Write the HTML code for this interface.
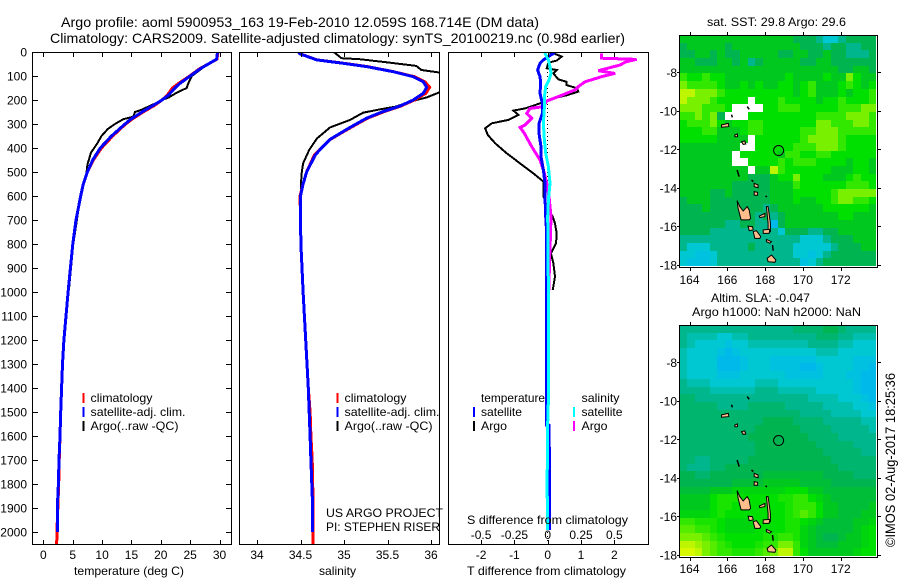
<!DOCTYPE html>
<html lang="en">
<head>
<meta charset="utf-8">
<title>Argo profile 5900953_163</title>
<style>
html,body{margin:0;padding:0;background:#fff;}
svg{display:block;}
text{font-family:"Liberation Sans",sans-serif;fill:#000;}
</style>
</head>
<body>
<svg id="chart" xmlns="http://www.w3.org/2000/svg" width="900" height="580" viewBox="0 0 900 580">
  <defs>
    <clipPath id="clipP1"><rect x="32" y="52" width="200" height="493"/></clipPath>
    <clipPath id="clipP2"><rect x="239" y="52" width="201" height="493"/></clipPath>
    <clipPath id="clipP3"><rect x="448" y="52" width="200" height="493"/></clipPath>
    <clipPath id="clipM1"><rect x="679.5" y="35" width="198" height="232"/></clipPath>
    <clipPath id="clipM2"><rect x="679.5" y="325" width="198" height="232"/></clipPath>
  </defs>

  <text x="61" y="27" font-size="14" textLength="478" lengthAdjust="spacingAndGlyphs">Argo profile: aoml 5900953_163 19-Feb-2010 12.059S 168.714E (DM data)</text>
  <text x="50" y="43" font-size="14" textLength="575" lengthAdjust="spacingAndGlyphs">Climatology: CARS2009. Satellite-adjusted climatology: synTS_20100219.nc (0.98d earlier)</text>

  <g id="layerMarks"></g>
  <g id="layerAxes"></g>

  <text x="74" y="575" font-size="12" textLength="110" lengthAdjust="spacingAndGlyphs">temperature (deg C)</text>
  <text x="319" y="575" font-size="12" textLength="37" lengthAdjust="spacingAndGlyphs">salinity</text>
  <text x="467" y="575" font-size="12" textLength="159" lengthAdjust="spacingAndGlyphs">T difference from climatology</text>
  <text x="467" y="524" font-size="12" textLength="161" lengthAdjust="spacingAndGlyphs">S difference from climatology</text>

  <g>
    <rect x="82.5" y="393" width="2" height="10" fill="#f00"/>
    <rect x="82.5" y="407" width="2" height="10" fill="#00f"/>
    <rect x="82.5" y="421" width="2" height="10" fill="#000"/>
    <text x="90.5" y="402" font-size="12" textLength="62" lengthAdjust="spacingAndGlyphs">climatology</text>
    <text x="90.5" y="416" font-size="12" textLength="95" lengthAdjust="spacingAndGlyphs">satellite-adj. clim.</text>
    <text x="90.5" y="430" font-size="12" textLength="88" lengthAdjust="spacingAndGlyphs">Argo(..raw -QC)</text>
  </g>
  <g>
    <rect x="336.5" y="393" width="2" height="10" fill="#f00"/>
    <rect x="336.5" y="407" width="2" height="10" fill="#00f"/>
    <rect x="336.5" y="421" width="2" height="10" fill="#000"/>
    <text x="344.5" y="402" font-size="12" textLength="62" lengthAdjust="spacingAndGlyphs">climatology</text>
    <text x="344.5" y="416" font-size="12" textLength="95" lengthAdjust="spacingAndGlyphs">satellite-adj. clim.</text>
    <text x="344.5" y="430" font-size="12" textLength="88" lengthAdjust="spacingAndGlyphs">Argo(..raw -QC)</text>
  </g>
  <text x="326" y="517" font-size="12" textLength="117" lengthAdjust="spacingAndGlyphs">US ARGO PROJECT</text>
  <text x="326" y="531" font-size="12" textLength="114" lengthAdjust="spacingAndGlyphs">PI: STEPHEN RISER</text>

  <g>
    <text x="481" y="402" font-size="12" textLength="64" lengthAdjust="spacingAndGlyphs">temperature</text>
    <rect x="473" y="407" width="2" height="10" fill="#00f"/>
    <rect x="473" y="421" width="2" height="10" fill="#000"/>
    <text x="481" y="416" font-size="12" textLength="41" lengthAdjust="spacingAndGlyphs">satellite</text>
    <text x="481" y="430" font-size="12" textLength="26" lengthAdjust="spacingAndGlyphs">Argo</text>
    <text x="581.5" y="402" font-size="12" textLength="38" lengthAdjust="spacingAndGlyphs">salinity</text>
    <rect x="573" y="407" width="2" height="10" fill="#0ff"/>
    <rect x="573" y="421" width="2" height="10" fill="#f0f"/>
    <text x="581.5" y="416" font-size="12" textLength="41" lengthAdjust="spacingAndGlyphs">satellite</text>
    <text x="581.5" y="430" font-size="12" textLength="26" lengthAdjust="spacingAndGlyphs">Argo</text>
  </g>

  <text x="707" y="26" font-size="12" textLength="139" lengthAdjust="spacingAndGlyphs">sat. SST: 29.8 Argo: 29.6</text>
  <text x="711" y="302" font-size="12" textLength="99" lengthAdjust="spacingAndGlyphs">Altim. SLA: -0.047</text>
  <text x="692" y="316" font-size="12" textLength="169" lengthAdjust="spacingAndGlyphs">Argo h1000: NaN h2000: NaN</text>
  <text transform="translate(895 547) rotate(-90)" font-size="14" textLength="174" lengthAdjust="spacingAndGlyphs">©IMOS 02-Aug-2017 18:25:36</text>
</svg>

<script>
// ---------- profile data ----------
const depthTicks = [0,100,200,300,400,500,600,700,800,900,1000,1100,1200,1300,1400,1500,1600,1700,1800,1900,2000];
const tempTicks = [0,5,10,15,20,25,30];
const salTicks = [34,34.5,35,35.5,36];
const salTickLabels = ['34','34.5','35','35.5','36'];
const tDiffTicks = [-2,-1,0,1,2];
const sDiffTicks = [-0.5,-0.25,0,0.25,0.5];
const sDiffTickLabels = ['-0.5','-0.25','0','0.25','0.5'];

const climDepth = [0,30,50,70,100,130,150,180,200,220,250,280,300,350,400,450,500,550,600,700,800,900,1000,1100,1200,1300,1400,1500,1600,1700,1800,1900,2000,2050];
const satDepth = [0,30,50,70,100,130,150,180,200,220,250,280,300,350,400,450,500,550,600,700,800,900,1000,1100,1200,1300,1400,1500,1600,1700,1800,1900,2000];
const tempClim = [29.75,29.55,28.1,26.6,24.9,23.1,22.0,21.1,20.2,19.1,17.0,15.1,14.0,11.8,9.9,8.5,7.5,6.8,6.35,5.55,5,4.6,4.2,3.85,3.5,3.25,3.1,2.95,2.83,2.7,2.6,2.45,2.3,2.26];
const tempSat = [29.66,29.5,28.1,26.7,25,23.3,22.4,21.3,20.2,18.9,16.8,14.9,13.9,11.6,9.7,8.4,7.5,6.8,6.35,5.55,5,4.6,4.2,3.85,3.5,3.25,3.1,2.95,2.83,2.66,2.55,2.37,2.37];
const tempArgoDepth = [0,30,50,100,130,150,170,190,200,215,240,250,270,280,300,320,350,380,420,470,510,560,600,700,800,900,992];
const tempArgo = [29.7,29.6,28,25.3,24.7,24.4,22.7,21.3,20.2,19,16.8,15.6,15.3,13.6,12.2,11,9.9,9.2,8.1,7.5,7.3,6.7,6.3,5.7,5.1,4.7,4.35];

const salDepth = [0,8,33,47,61,82,103,124,147,172,200,225,248,276,314,339,364,400,429,500,550,600,700,800,1000,1200,1300,1400,1500,1600,1700,1800,1900,2000];
const salSat = [34.475,34.494,34.686,34.992,35.26,35.567,35.797,35.912,35.95,35.912,35.797,35.644,35.452,35.26,35.07,34.954,34.84,34.74,34.67,34.57,34.53,34.5,34.5,34.505,34.53,34.56,34.575,34.59,34.6,34.61,34.62,34.63,34.64,34.64];
const salClimDepth = [0,8,33,47,61,82,103,124,147,172,200,225,248,276,314,339,364,400,429,500,550,600,700,800,1000,1200,1300,1400,1500,1600,1700,1800,1900,2000,2050];
const salClim = [34.475,34.5,34.69,35.0,35.27,35.57,35.81,35.93,35.985,35.94,35.81,35.655,35.465,35.27,35.08,34.96,34.845,34.74,34.66,34.57,34.53,34.495,34.5,34.505,34.53,34.56,34.575,34.59,34.61,34.62,34.635,34.64,34.645,34.645,34.645];
const salArgoDepth = [0,5,26,30,44,58,75,85,100,150,169,189,207,228,239,253,283,314,360,408,464,512,575,631,700,800,900,992];
const salArgo = [34.88,34.9,34.97,35.18,35.52,35.83,35.89,36.085,36.3,36.3,36.09,35.95,35.76,35.59,35.41,35.22,35.07,34.84,34.69,34.6,34.53,34.51,34.505,34.505,34.5,34.505,34.515,34.53];

const tSatDepth = [0,6,19,33,47,75,103,131,172,214,256,297,339,394,436,492,547,603,686,756,1554,1555,1650,1651,1992];
const tSatDiff = [0.17,0.17,0.02,-0.13,-0.23,-0.30,-0.23,-0.21,-0.23,-0.16,-0.16,-0.26,-0.26,-0.20,-0.20,-0.13,-0.08,-0.08,-0.06,-0.03,-0.03,0.04,0.04,0.06,0.06];
const tArgoDepth = [0,8,19,36,44,54,68,75,89,114,124,138,151,165,179,197,207,235,244,262,283,297,318,346,380,422,464,506,540,603,617,644,686,714,756,798,839,881,936,992];
const tArgoDiff = [0.02,0.22,0.42,0.27,0.02,0,-0.03,0.27,0.17,0.32,0.57,0.57,0.87,0.92,0.6,0.07,-0.08,-0.68,-1.03,-0.88,-1.18,-1.68,-1.88,-1.80,-1.58,-1.23,-0.83,-0.43,-0.13,-0.13,-0.08,-0.03,0.15,0.22,0.27,0.25,0.1,0.17,0.22,0.15];
const sSatDepth = [0,6,33,61,89,117,144,186,228,297,367,422,478,547,617,686,1000,1450,1546,1854,1855,1992];
const sSatDiff = [-0.02,-0.02,0.005,0.0175,0.025,0.01,-0.015,-0.025,-0.025,-0.0325,-0.025,-0.015,0.005,0.0175,0.005,0,0.005,0.005,0,-0.005,0,0];
const sArgoDepth = [6,26,31,40,54,78,89,103,124,144,158,186,204,228,235,256,276,304,314,339,394,450,506,547,603,686,770,881,992];
const sArgoDiff = [0.405,0.405,0.6675,0.5925,0.5425,0.38,0.505,0.405,0.28,0.23,0.205,0.08,-0.0075,-0.0325,-0.1325,-0.1575,-0.12,-0.17,-0.2075,-0.175,-0.12,-0.0575,-0.025,-0.0075,0.01,0.025,0.02,0.0125,0.01];

// ---------- map data ----------
const mapLonTicks = [164,166,168,170,172];
const mapLatTicks = [-8,-10,-12,-14,-16,-18];
const floatLon = 168.714;
const floatLat = -12.059;
const N = null;
const sstGrid = [
[5,5,5,5,5,5,5,5,5,5,5,5,5,5,5,4,4,4,3,2,2,3,4,4,4,4],
[4,5,5,5,5,5,4,5,5,5,5,5,5,5,5,5,4,4,4,3,4,4,3,3,4,4],
[4,4,5,5,4,5,4,4,5,5,5,5,5,4,4,5,5,4,4,5,4,4,3,3,3,4],
[5,5,4,4,4,5,5,4,5,3,4,5,5,5,5,5,4,4,5,5,4,4,4,4,4,4],
[5,5,5,5,5,5,5,5,5,5,5,5,5,5,5,5,5,5,5,5,5,4,4,5,5,4],
[7,6,6,7,6,6,5,5,5,5,5,5,5,5,6,5,5,5,5,6,5,5,8,6,5,5],
[8,7,7,7,7,6,5,5,6,5,6,5,5,6,6,5,6,7,5,5,5,6,7,6,5,6],
[9,9,8,8,8,7,6,6,6,6,6,6,6,6,6,5,6,7,5,5,5,6,5,6,6,7],
[9,8,8,8,7,6,6,6,6,N,6,6,6,7,6,6,6,6,5,6,6,7,6,6,6,7],
[8,8,8,7,7,7,6,N,N,N,N,6,6,7,7,7,6,6,6,6,6,7,7,7,8,8],
[7,7,8,7,8,4,N,N,N,6,6,6,6,6,6,6,6,6,7,7,7,7,8,8,8,7],
[6,7,7,7,8,6,5,6,6,7,7,6,6,6,6,6,6,6,8,8,7,7,7,8,8,7],
[6,6,6,7,7,5,5,5,6,7,7,6,6,6,6,6,7,7,8,8,8,7,7,7,7,7],
[6,6,6,6,6,5,5,5,5,N,6,6,6,6,6,6,7,8,8,8,8,7,6,6,6,6],
[5,5,5,5,5,5,5,5,N,N,6,6,6,6,6,7,7,7,8,8,8,7,6,6,6,6],
[5,5,5,5,5,5,5,N,6,6,6,6,6,5,7,7,6,6,7,7,6,6,6,6,6,6],
[5,5,5,5,5,5,5,N,N,6,6,6,6,7,6,7,7,7,6,6,6,6,5,6,6,5],
[5,5,5,5,5,5,5,5,5,N,5,5,9,7,6,6,6,6,6,6,5,5,5,6,6,5],
[5,5,5,5,5,5,5,5,5,4,4,4,5,6,6,8,6,6,6,5,5,5,6,7,6,6],
[5,5,5,5,5,5,5,4,4,4,4,4,5,5,5,7,6,6,6,6,6,6,7,7,7,6],
[5,5,5,5,4,4,5,4,4,4,4,4,5,5,5,6,6,6,6,6,7,8,8,8,8,8],
[4,5,5,5,4,4,4,4,4,4,4,4,5,5,5,6,5,5,6,6,7,8,8,7,7,6],
[4,4,4,5,4,4,4,4,4,4,4,3,4,5,5,5,5,5,5,6,6,6,6,6,6,5],
[4,4,4,4,4,4,4,4,4,4,3,4,3,4,5,5,5,5,5,5,5,6,6,5,5,5],
[4,4,4,4,4,4,3,3,4,4,3,3,1,4,5,5,5,5,5,5,5,5,5,5,5,5],
[4,4,4,4,3,3,3,3,3,3,3,3,3,2,4,4,4,3,3,4,4,5,5,5,5,5],
[3,3,3,3,3,3,3,3,3,3,3,3,3,3,3,3,2,2,2,3,4,4,4,5,5,5],
[3,2,2,2,3,3,3,3,3,4,3,3,3,3,3,2,2,2,2,2,3,4,4,4,5,5],
[2,2,1.5,1.5,2,3,3,3,3,3,3,3,3,3,3,2,2,1.5,2,3,4,4,4,4,4,4],
[2,1.5,1.5,1.5,2,3,3,3,3,3,3,3,3,3,3,3,1.5,2,3,4,4,4,4,4,4,4]
];
const slaGrid = [
[3,3,3,3,3,3,3,3,3,3,3,3,3,3,3,3.5,3.5,3.5,3.5,4,4,3.5,3,3,3,3],
[3,2.5,2.5,2.5,2.5,2,2,2.5,2.5,3,3,3,3,3,3,3,3,3,3.5,3.5,3.5,3,3,2.5,2.5,2.5],
[3,2.5,2,2,2,2,1.5,2,2,2.5,2.5,2.5,2.5,2.5,2.5,2.5,2.5,3,3,3,3,2.5,2.5,2,2,2],
[2.5,2,2,2,2,1.5,1,1.5,2,2,2,2,2,2,2,2,2,2,2.5,2.5,2.5,2,2,2,2,2],
[2.5,2,2,2,2,1,1,1,1.5,2,2,2,1.5,1.5,1.5,1.5,1.5,1.5,2,2,2,2,2,1.5,1.5,1.5],
[2.5,2,2,2,2,1,1,1,1.5,2,2,2,1.5,1.5,1.5,1.5,1,1,1.5,2,2,2,2,1.5,1.5,1],
[2.5,2,2,2,2,1.5,1.5,1.5,2,2,2,2,2,2,1.5,1.5,1.5,1.5,1.5,2,2,2,1.5,1.5,1,1],
[3,2.5,2.5,2.5,2,2,2,2,2,2,2.5,2.5,2.5,2,2,2,2,2,2,2,2,2,2,1.5,1,1],
[3,3,3,3,2.5,2.5,2.5,2.5,2.5,2.5,3,3,3,2.5,2.5,2.5,2.5,2.5,2,2,2,2,2,1.5,1,1],
[3.5,3.5,3,3,3,3,3,3,3,3,3,3,3,3,3,3,3,2.5,2.5,2.5,2.5,2,2,2,1.5,1],
[3.5,3.5,3.5,3.5,3.5,3,3,3,3,3.5,3.5,3.5,3.5,3.5,3,3,3,3,3,2.5,2.5,2.5,2.5,2,2,1.5],
[3.5,3.5,3.5,3.5,3.5,3.5,3.5,3.5,3.5,3.5,3.5,3.5,3.5,3.5,3.5,3.5,3,3,3,3,2.5,2.5,2.5,2.5,2,2],
[3.5,3.5,3.5,3.5,3.5,3.5,3.5,3.5,3.5,3.5,3.5,4,4,4,4,3.5,3.5,3.5,3.5,3,3,3,3,3,2.5,2.5],
[3.5,3.5,3.5,3.5,3.5,3.5,3.5,3.5,3.5,3.5,4,4,4,4,4,4,3.5,3.5,3.5,3.5,3,3,3,3,3,2.5],
[3.5,3.5,3.5,3.5,3.5,3.5,3.5,3.5,3.5,4,4,4,4,4,4,4,4,3.5,3.5,3.5,3.5,3,3,3,3,3],
[3.5,3.5,3.5,3.5,3.5,3.5,3.5,3.5,3.5,3.5,4,4,4,4,4,4,4,4,3.5,3.5,3.5,3.5,3.5,3,3,3],
[3.5,3.5,3.5,3.5,3.5,3.5,3.5,3.5,3.5,3.5,4,4,4,4,4,4,4,4,4,3.5,3.5,3.5,3.5,3.5,3,3],
[3.5,3.5,3,3,3.5,3.5,3.5,3.5,3.5,4,4,4,4,4,4,4,4,4,4,4,3.5,3.5,3.5,3.5,3.5,3.5],
[3.5,3,3,3,3.5,3.5,4,4,4,4,4,4,4,4,4,4,4,4,4,4,4,3.5,3.5,3.5,3.5,3.5],
[4,4,3.5,3.5,4,4,4,4,4,4,4,4.5,4.5,4.5,4.5,4.5,4.5,4.5,4.5,4,4,4,4,3.5,3.5,3.5],
[4,4,4,4,4,4,4,4.5,4.5,4.5,4.5,5,5,5,5,5,4.5,4.5,4.5,4.5,4,4,4,4,4,4],
[4.5,4.5,4.5,4.5,5,5,5,5.5,5.5,5.5,5.5,5.5,5.5,5.5,6,6,6,5,5,4.5,4.5,4.5,4.5,4.5,4.5,4.5],
[5,5,5,5,6,6.5,6.5,6.5,6,6,6,6,6,6.5,6.5,7,7,6,5.5,5,4.5,4.5,4.5,4.5,4.5,4.5],
[5,5,5,5,6,6.5,6.5,6,6,6,6,6,6,6,6.5,7,7,7,6,5,5,4.5,4.5,4.5,4.5,5],
[5.5,5.5,5.5,5.5,6,6.5,6,6,6,6,6,6,6,6,6.5,7,7.5,7,6,5,5,4.5,4.5,4.5,5,5],
[7,7,6.5,6.5,6.5,6,5.5,5.5,5.5,5.5,6,6,6,6,6.5,6.5,6,5.5,5,4.5,4.5,4.5,4.5,5,5,5.5],
[7.5,7.5,7,7,6.5,6,5.5,5.5,5.5,5.5,6,6,6,6,6.5,6.5,5.5,5,4.5,4.5,4.5,4.5,4.5,5,5.5,6],
[8,8,8,7.5,7,6.5,6,6,6,6,6,6.5,6.5,7,7,6.5,5.5,5,4.5,4,4,4.5,5,5,5.5,6],
[9,9,8.5,8,7.5,7,6.5,6,6,6,6.5,7,7,8,8,7,5.5,5,4.5,4.5,4.5,5,5,5,5.5,6],
[9.5,9.5,9,8,7.5,7,7,6.5,6.5,6.5,7,7.5,8,9,9,7,6,5,5,5,5,5,5,5.5,6,6]
];
const islands = [
[[166.52,-14.66],[166.66,-14.97],[166.84,-15.20],[167.05,-14.97],[167.16,-15.15],[167.23,-15.58],[167.16,-15.66],[166.73,-15.66],[166.66,-15.40],[166.57,-15.06]],
[[165.69,-10.73],[166.05,-10.65],[166.08,-10.82],[165.69,-10.85]],
[[166.40,-11.25],[166.54,-11.20],[166.54,-11.34],[166.40,-11.34]],
[[166.75,-11.60],[166.92,-11.56],[166.98,-11.72],[166.84,-11.74]],
[[167.42,-13.76],[167.63,-13.85],[167.63,-13.99],[167.42,-13.93]],
[[167.42,-14.19],[167.60,-14.23],[167.60,-14.38],[167.42,-14.38]],
[[167.10,-15.98],[167.33,-16.01],[167.37,-16.18],[167.16,-16.22]],
[[167.37,-16.27],[167.54,-16.22],[167.77,-16.53],[167.72,-16.62],[167.46,-16.62]],
[[167.69,-15.46],[167.99,-15.32],[167.99,-15.49],[167.72,-15.54]],
[[168.07,-14.97],[168.16,-14.97],[168.28,-15.84],[168.28,-16.27],[168.16,-16.32],[168.16,-15.84]],
[[167.90,-16.18],[168.25,-16.15],[168.21,-16.36],[167.90,-16.36]],
[[168.07,-16.67],[168.34,-16.79],[168.25,-16.87],[168.07,-16.79]],
[[168.11,-17.65],[168.34,-17.48],[168.57,-17.74],[168.52,-17.86],[168.16,-17.83]]
];
const reefs = [
[[166.52,-13.07],[166.63,-13.42]],
[[167.05,-9.78],[167.16,-9.92]],
[[166.22,-10.20],[166.27,-10.34]],
[[168.39,-16.96],[168.43,-17.26]],
[[167.28,-13.59],[167.37,-13.67]],
[[168.02,-14.42],[168.10,-14.46]]
];

// ---------- scales ----------
const SVGNS = 'http://www.w3.org/2000/svg';
const marks = document.getElementById('layerMarks');
const axes = document.getElementById('layerAxes');
const depthY = d => 52 + 0.24 * d;
const tempX = t => 43.4 + 5.87 * t;
const salX = s => 257 + 87 * (s - 34);
const tDiffX = t => 547.7 + 33.3 * t;
const sDiffX = s => 547.7 + 133.2 * s;
const lonX = lon => 679.5 + 18.9 * (lon - 163.47);
const latYTop = lat => 72.3 + 19.27 * (-8 - lat);
const latYBottom = lat => 362.3 + 19.27 * (-8 - lat);

function mk(tag, attrs, parent) {
  const el = document.createElementNS(SVGNS, tag);
  for (const k in attrs) el.setAttribute(k, attrs[k]);
  parent.appendChild(el);
  return el;
}

function drawProfile(group, depths, values, xScale, color, width, name) {
  const pts = depths.map((d, i) => xScale(values[i]).toFixed(1) + ',' + depthY(d).toFixed(1)).join(' ');
  const el = mk('polyline', {points: pts, fill: 'none', stroke: color, 'stroke-width': width, 'stroke-linejoin': 'miter', 'shape-rendering': 'crispEdges'}, group);
  
  
}

function drawLabel(x, y, str, anchor, name, size) {
  const el = mk('text', {x: x, y: y, 'text-anchor': anchor, 'font-size': size || 12}, axes);
  el.textContent = str;
  
  
}

function drawSeg(x1, y1, x2, y2, name) {
  const el = mk('line', {x1: x1, y1: y1, x2: x2, y2: y2, stroke: '#000', 'stroke-width': 1, 'shape-rendering': 'crispEdges'}, axes);
  
  
}

function drawFrame(x, y, w, h, name) {
  const el = mk('rect', {x: x, y: y, width: w, height: h, fill: 'none', stroke: '#000', 'stroke-width': 1, 'shape-rendering': 'crispEdges'}, axes);
  
  
}

// ---------- panel groups ----------
const gP1 = mk('g', {'clip-path': 'url(#clipP1)'}, marks);


const gP2 = mk('g', {'clip-path': 'url(#clipP2)'}, marks);


const gP3 = mk('g', {'clip-path': 'url(#clipP3)'}, marks);



drawProfile(gP1, tempArgoDepth, tempArgo, tempX, '#000', 2, 'temperature-argo-line');
drawProfile(gP1, climDepth, tempClim, tempX, '#f00', 3, 'temperature-climatology-line');
drawProfile(gP1, satDepth, tempSat, tempX, '#00f', 3, 'temperature-satellite-line');

drawProfile(gP2, salArgoDepth, salArgo, salX, '#000', 2, 'salinity-argo-line');
drawProfile(gP2, salClimDepth, salClim, salX, '#f00', 3, 'salinity-climatology-line');
drawProfile(gP2, salDepth, salSat, salX, '#00f', 3, 'salinity-satellite-line');

const zeroLine = mk('line', {x1: tDiffX(0), y1: 52, x2: tDiffX(0), y2: 545, stroke: '#000', 'stroke-width': 1, 'stroke-dasharray': '1 3', 'shape-rendering': 'crispEdges'}, gP3);


drawProfile(gP3, tArgoDepth, tArgoDiff, tDiffX, '#000', 2, 't-difference-argo-line');
drawProfile(gP3, sArgoDepth, sArgoDiff, sDiffX, '#f0f', 3, 's-difference-argo-line');
drawProfile(gP3, tSatDepth, tSatDiff, tDiffX, '#00f', 3, 't-difference-satellite-line');
drawProfile(gP3, sSatDepth, sSatDiff, sDiffX, '#0ff', 3, 's-difference-satellite-line');

// ---------- profile axes ----------
drawFrame(32.5, 52.5, 199, 492, 'temperature-panel-frame');
drawFrame(239.5, 52.5, 200, 492, 'salinity-panel-frame');
drawFrame(448.5, 52.5, 200, 492, 'difference-panel-frame');

depthTicks.forEach(d => {
  const y = Math.round(depthY(d)) + 0.5;
  drawSeg(33, y, 38, y, 'depth-tick-left');
  drawSeg(226, y, 231, y, 'depth-tick-right');
  drawLabel(27, depthY(d) + 4.5, String(d), 'end', 'depth-tick-label');
});
tempTicks.forEach(t => {
  const x = Math.round(tempX(t)) + 0.5;
  drawSeg(x, 53, x, 57, 'temperature-tick-top');
  drawSeg(x, 540, x, 545, 'temperature-tick-bottom');
  drawLabel(tempX(t), 559, String(t), 'middle', 'temperature-tick-label');
});
salTicks.forEach((s, i) => {
  const x = Math.round(salX(s)) + 0.5;
  drawSeg(x, 53, x, 57, 'salinity-tick-top');
  drawSeg(x, 540, x, 545, 'salinity-tick-bottom');
  drawLabel(salX(s), 559, salTickLabels[i], 'middle', 'salinity-tick-label');
});
tDiffTicks.forEach(t => {
  const x = Math.round(tDiffX(t)) + 0.5;
  drawSeg(x, 53, x, 57, 't-difference-tick-top');
  drawSeg(x, 540, x, 545, 't-difference-tick-bottom');
  drawLabel(tDiffX(t), 559, String(t), 'middle', 't-difference-tick-label');
});
sDiffTicks.forEach((s, i) => {
  drawLabel(sDiffX(s), 539, sDiffTickLabels[i], 'middle', 's-difference-tick-label');
});

// ---------- maps ----------
const colorStops = [[1,0,185,235],[2,0,200,210],[3,0,182,140],[4,0,180,80],[5,0,200,30],[6,0,224,0],[7,50,232,0],[8,120,240,0],[9,190,245,0],[10,240,250,0]];
function colorOf(v) {
  for (let i = 0; i < colorStops.length - 1; i++) {
    const a = colorStops[i], b = colorStops[i + 1];
    if (v <= b[0]) {
      const f = Math.max(0, (v - a[0]) / (b[0] - a[0]));
      return 'rgb(' + [1, 2, 3].map(k => Math.round(a[k] + (b[k] - a[k]) * f)).join(',') + ')';
    }
  }
  return 'rgb(240,250,0)';
}

function drawMap(grid, latY, clipId, prefix, top, bottom, labelY) {
  const g = mk('g', {'clip-path': 'url(#' + clipId + ')'}, marks);
  
  
  const lon0 = 163.47, lat0 = -6.06, step = 0.4;
  grid.forEach((row, j) => {
    row.forEach((v, i) => {
      if (v === null) return;
      const x0 = lonX(lon0 + i * step), x1 = lonX(lon0 + (i + 1) * step);
      const y0 = latY(lat0 - j * step), y1 = latY(lat0 - (j + 1) * step);
      const c = mk('rect', {x: Math.round(x0), y: Math.round(y0), width: Math.round(x1) - Math.round(x0), height: Math.round(y1) - Math.round(y0), fill: colorOf(v), 'shape-rendering': 'crispEdges'}, g);
      
      
    });
  });
  islands.forEach(poly => {
    const pts = poly.map(p => lonX(p[0]).toFixed(1) + ',' + latY(p[1]).toFixed(1)).join(' ');
    const isl = mk('polygon', {points: pts, fill: '#ffbe8c', stroke: '#000', 'stroke-width': 1}, g);
    
    
  });
  reefs.forEach(seg => {
    const pts = seg.map(p => lonX(p[0]).toFixed(1) + ',' + latY(p[1]).toFixed(1)).join(' ');
    const r = mk('polyline', {points: pts, fill: 'none', stroke: '#000', 'stroke-width': 1.5}, g);
    
    
  });
  const circle = mk('circle', {cx: lonX(floatLon), cy: latY(floatLat), r: 5, fill: 'none', stroke: '#000', 'stroke-width': 1}, g);
  
  

  drawFrame(679.5, top + 0.5, 198, bottom - top, prefix + '-map-frame');
  mapLonTicks.forEach(lon => {
    const x = Math.round(lonX(lon)) + 0.5;
    drawSeg(x, top - 3, x, top, prefix + '-lon-tick-top');
    drawSeg(x, bottom + 1, x, bottom + 4, prefix + '-lon-tick-bottom');
    drawLabel(lonX(lon), labelY, String(lon), 'middle', prefix + '-lon-label');
  });
  mapLatTicks.forEach(lat => {
    const y = Math.round(latY(lat)) + 0.5;
    drawSeg(677, y, 679, y, prefix + '-lat-tick-left');
    drawSeg(878, y, 881, y, prefix + '-lat-tick-right');
    drawLabel(677, latY(lat) + 4.5, String(lat), 'end', prefix + '-lat-label');
  });
}

drawMap(sstGrid, latYTop, 'clipM1', 'sst', 35, 267, 284);
drawMap(slaGrid, latYBottom, 'clipM2', 'sla', 325, 557, 573);
</script>
</body>
</html>
